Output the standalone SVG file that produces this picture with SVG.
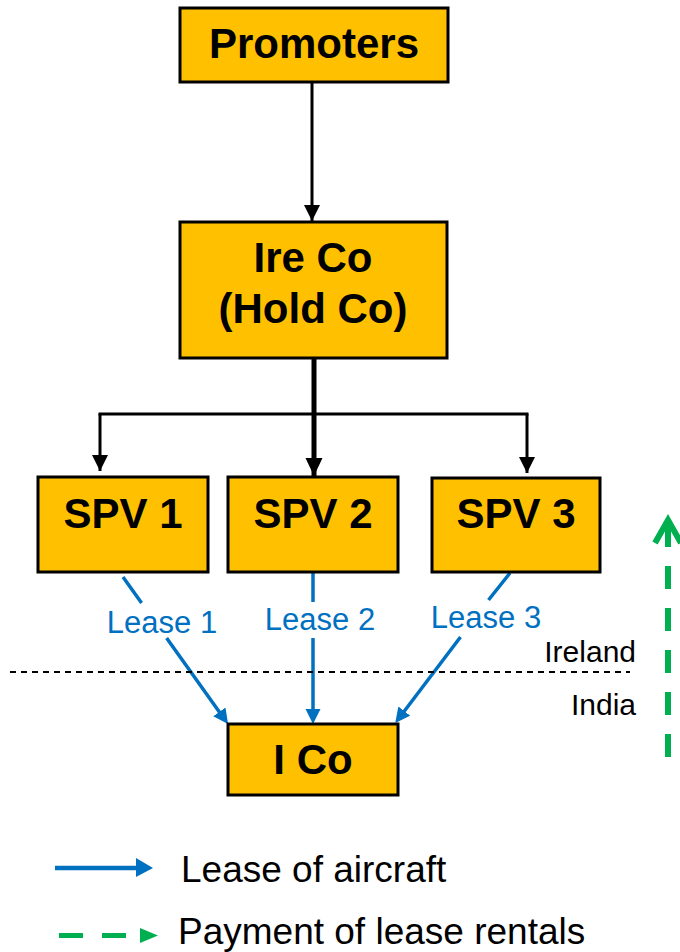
<svg xmlns="http://www.w3.org/2000/svg" width="680" height="952" viewBox="0 0 680 952">
<style>
.box{fill:#FFC000;stroke:#000;stroke-width:3}
.nt{font-family:"Liberation Sans",Arial,sans-serif;font-weight:bold;font-size:42px;fill:#000;text-anchor:middle}
.lbl{font-family:"Liberation Sans",Arial,sans-serif;font-size:31px;fill:#0070C0;text-anchor:middle}
.reg{font-family:"Liberation Sans",Arial,sans-serif;font-size:30px;fill:#000;text-anchor:end}
.leg{font-family:"Liberation Sans",Arial,sans-serif;font-size:37px;fill:#000}
.blk{stroke:#000;fill:none}
.blue{stroke:#0070C0;stroke-width:3.5;fill:none}
</style>
<defs>
<marker id="ab" markerUnits="userSpaceOnUse" markerWidth="18" markerHeight="18" refX="16" refY="8" orient="auto">
<path d="M0,0 L16,8 L0,16 z" fill="#000"/>
</marker>
<marker id="ab2" markerUnits="userSpaceOnUse" markerWidth="20" markerHeight="20" refX="18" refY="8.5" orient="auto">
<path d="M0,0 L18,8.5 L0,17 z" fill="#000"/>
</marker>
<marker id="au" markerUnits="userSpaceOnUse" markerWidth="16" markerHeight="16" refX="8" refY="7.5" orient="auto">
<path d="M0,0 L15,7.5 L0,15 z" fill="#0070C0"/>
</marker>
</defs>

<g id="connectors">
<line class="blk" stroke-width="3" x1="312" y1="82" x2="312" y2="221" marker-end="url(#ab)"/>
<line class="blk" stroke-width="5" x1="314" y1="358" x2="314" y2="476" marker-end="url(#ab2)"/>
<line class="blk" stroke-width="3" x1="98.5" y1="414" x2="528.5" y2="414"/>
<line class="blk" stroke-width="3" x1="100" y1="414" x2="100" y2="471" marker-end="url(#ab)"/>
<line class="blk" stroke-width="3" x1="527" y1="414" x2="527" y2="473" marker-end="url(#ab)"/>
<line class="blue" x1="123" y1="577" x2="141.6" y2="603"/>
<line class="blue" x1="166.6" y1="638" x2="224" y2="718.4" marker-end="url(#au)"/>
<line class="blue" x1="313" y1="573" x2="313" y2="602"/>
<line class="blue" x1="313" y1="638" x2="313" y2="717" marker-end="url(#au)"/>
<line class="blue" x1="510" y1="573" x2="488.5" y2="600"/>
<line class="blue" x1="460.5" y1="637" x2="399.5" y2="717.5" marker-end="url(#au)"/>
<line x1="10" y1="672" x2="630" y2="672" stroke="#000" stroke-width="2" stroke-dasharray="6 5"/>
<line x1="668" y1="757" x2="668" y2="521" stroke="#00B050" stroke-width="6" stroke-dasharray="23 19"/>
<polyline points="655,543 668,520 681,543" fill="none" stroke="#00B050" stroke-width="6" stroke-linejoin="miter"/>
</g>

<g id="promoters">
<rect class="box" x="180" y="8" width="268" height="74"/>
<text class="nt" x="314" y="58">Promoters</text>
</g>
<g id="ireco">
<rect class="box" x="180" y="222" width="267" height="136"/>
<text class="nt" x="313" y="272">Ire Co</text>
<text class="nt" x="313" y="323">(Hold Co)</text>
</g>
<g id="spv1">
<rect class="box" x="38" y="477" width="170" height="95"/>
<text class="nt" x="123" y="528">SPV 1</text>
</g>
<g id="spv2">
<rect class="box" x="228" y="477" width="170" height="95"/>
<text class="nt" x="313" y="528">SPV 2</text>
</g>
<g id="spv3">
<rect class="box" x="432" y="478" width="168" height="94"/>
<text class="nt" x="516" y="528">SPV 3</text>
</g>
<g id="ico">
<rect class="box" x="228" y="724" width="170" height="71"/>
<text class="nt" x="313" y="774">I Co</text>
</g>

<g id="labels">
<text class="lbl" x="162" y="633">Lease 1</text>
<text class="lbl" x="320" y="630">Lease 2</text>
<text class="lbl" x="486" y="628">Lease 3</text>
<text class="reg" x="636" y="662">Ireland</text>
<text class="reg" x="636" y="715">India</text>
</g>

<g id="legend">
<line x1="55" y1="868" x2="137" y2="868" stroke="#0070C0" stroke-width="4.5"/>
<polygon points="136,858 153,868 136,877" fill="#0070C0"/>
<text class="leg" x="181" y="882">Lease of aircraft</text>
<line x1="59" y1="935.5" x2="127" y2="935.5" stroke="#00B050" stroke-width="5" stroke-dasharray="24 19"/>
<polygon points="140,928 158,935.5 140,943" fill="#00B050"/>
<text class="leg" x="178" y="944">Payment of lease rentals</text>
</g>
</svg>
